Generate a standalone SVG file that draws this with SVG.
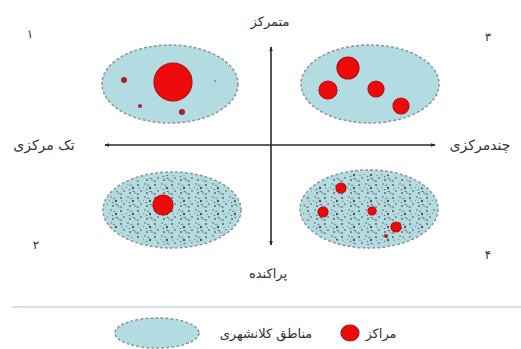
<svg xmlns="http://www.w3.org/2000/svg" width="521" height="349" viewBox="0 0 521 349">
<style>
.zone{fill:#b2dce1;stroke:#8a9599;stroke-width:1.5;stroke-dasharray:3 2}
.ctr{fill:#ee0a0a;stroke:#b01010;stroke-width:1.2}
.sm{fill:#a8232e}
.axis{stroke:#2a2a2a;stroke-width:1.6;fill:none}
.lbl{font-family:"DejaVu Sans",sans-serif;font-size:13px;fill:#333;text-anchor:middle}
.side{font-size:14px}
.num{font-family:"DejaVu Sans",sans-serif;font-size:12px;fill:#333;text-anchor:middle}
</style>
<defs>
<marker id="ah" viewBox="0 0 6 6" refX="5" refY="3" markerWidth="5" markerHeight="5" orient="auto-start-reverse" markerUnits="userSpaceOnUse">
<path d="M0,0.8 L6,3 L0,5.2 z" fill="#2a2a2a"/>
</marker>
<pattern id="speck" width="17" height="13" patternUnits="userSpaceOnUse">
<circle cx="2" cy="3" r="1.1" fill="#666"/>
<circle cx="9" cy="2" r="0.9" fill="#888"/>
<circle cx="14" cy="6" r="1.2" fill="#555"/>
<circle cx="5" cy="9" r="0.9" fill="#777"/>
<circle cx="11" cy="11" r="1" fill="#666"/>
<circle cx="7.5" cy="5.5" r="0.8" fill="#999"/>
<circle cx="16" cy="11" r="0.8" fill="#777"/>
<circle cx="10.5" cy="7.5" r="0.8" fill="#6f6f6f"/>
<circle cx="3" cy="6.2" r="0.7" fill="#8a8a8a"/>
<rect x="0.5" y="11.5" width="2.5" height="1.1" fill="#6a6a6a"/>
<rect x="11" y="2.8" width="2.4" height="1" fill="#808080"/>
<rect x="13.5" y="9" width="2.2" height="1" fill="#707070"/>
</pattern>
</defs>
<rect width="521" height="349" fill="#ffffff"/>

<g id="connectors">
<line class="axis" x1="271" y1="245" x2="271" y2="47" marker-start="url(#ah)" marker-end="url(#ah)"/>
<line class="axis" x1="105" y1="145" x2="435" y2="145" marker-start="url(#ah)" marker-end="url(#ah)"/>
</g>

<g id="q1">
<ellipse class="zone" cx="170" cy="84" rx="68" ry="39"/>
<circle class="ctr" cx="173" cy="82" r="19"/>
<circle class="sm" cx="124" cy="80" r="3"/>
<circle class="sm" cx="140" cy="106" r="2" fill="#5a2a30"/>
<circle class="sm" cx="182" cy="112" r="3"/>
<circle cx="215" cy="81" r="1" fill="#7a8a90"/>
</g>

<g id="q3">
<ellipse class="zone" cx="370" cy="84" rx="69" ry="39"/>
<circle class="ctr" cx="348" cy="68" r="11"/>
<circle class="ctr" cx="328" cy="90" r="9"/>
<circle class="ctr" cx="376" cy="89" r="8"/>
<circle class="ctr" cx="401" cy="106" r="8"/>
</g>

<g id="q2">
<ellipse class="zone" cx="172" cy="210" rx="69" ry="38"/>
<ellipse cx="172" cy="210" rx="66" ry="35" fill="url(#speck)"/>
<circle class="ctr" cx="163" cy="205" r="10"/>
</g>

<g id="q4">
<ellipse class="zone" cx="369" cy="209" rx="69" ry="39"/>
<ellipse cx="369" cy="209" rx="66" ry="36" fill="url(#speck)"/>
<circle class="ctr" cx="341" cy="188" r="5"/>
<circle class="ctr" cx="323" cy="212" r="5"/>
<circle class="ctr" cx="372" cy="211" r="4"/>
<circle class="ctr" cx="396" cy="227" r="5"/>
<circle class="sm" cx="386" cy="236" r="2"/>
</g>

<g id="labels">
<text class="lbl" x="270" y="26">متمرکز</text>
<text class="lbl side" x="44" y="150">تک مرکزی</text>
<text class="lbl side" x="480" y="150">چندمرکزی</text>
<text class="lbl" x="268" y="278">پراکنده</text>
<text class="num" x="30" y="38">۱</text>
<text class="num" x="488" y="41">۳</text>
<text class="num" x="36" y="249">۲</text>
<text class="num" x="488" y="259">۴</text>
</g>

<line x1="12" y1="307" x2="521" y2="307" stroke="#a9c6cc" stroke-width="1"/>

<g id="legend">
<ellipse class="zone" cx="157" cy="333" rx="42" ry="15"/>
<text class="lbl" x="266" y="338">مناطق کلانشهری</text>
<ellipse class="ctr" cx="350" cy="333" rx="9" ry="8"/>
<text class="lbl" x="381" y="338">مراکز</text>
</g>
</svg>
